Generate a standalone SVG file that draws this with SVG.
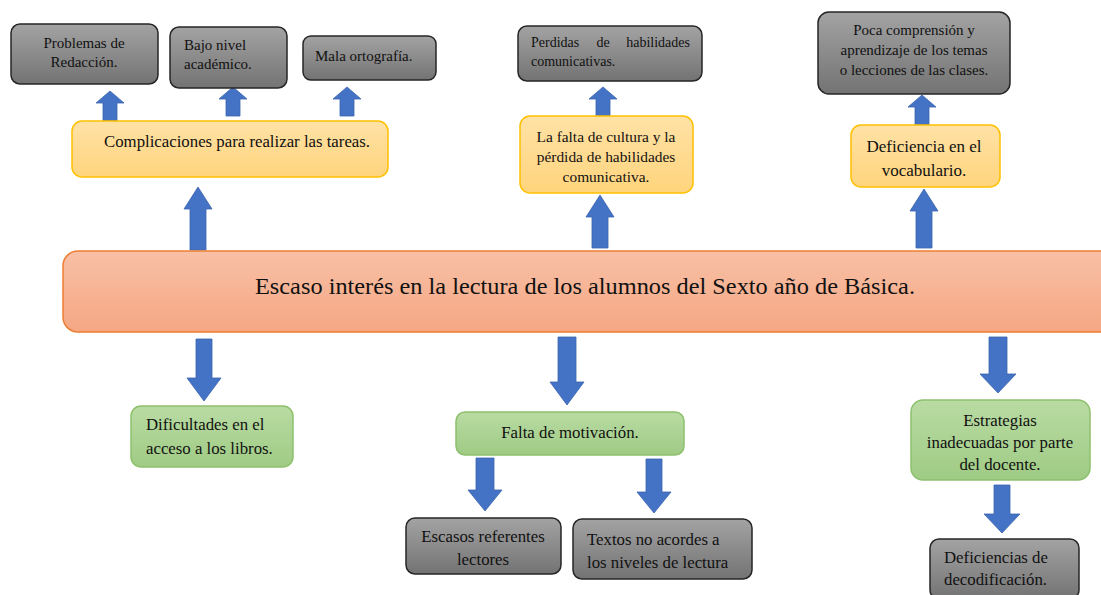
<svg xmlns="http://www.w3.org/2000/svg" width="1101" height="595" viewBox="0 0 1101 595">
<defs>
<linearGradient id="gGray" x1="0" y1="0" x2="0" y2="1"><stop offset="0" stop-color="#a3a3a3"/><stop offset="1" stop-color="#737373"/></linearGradient>
<linearGradient id="gYel" x1="0" y1="0" x2="0" y2="1"><stop offset="0" stop-color="#ffe2a6"/><stop offset="1" stop-color="#ffd47c"/></linearGradient>
<linearGradient id="gGrn" x1="0" y1="0" x2="0" y2="1"><stop offset="0" stop-color="#b9dba3"/><stop offset="1" stop-color="#9fcb84"/></linearGradient>
<linearGradient id="gOr" x1="0" y1="0" x2="0" y2="1"><stop offset="0" stop-color="#f8c0a6"/><stop offset="1" stop-color="#f5a783"/></linearGradient>
</defs>
<style>
.gray{fill:url(#gGray);stroke:#262626;stroke-width:1.5}
.yel{fill:url(#gYel);stroke:#ffc000;stroke-width:1.5}
.grn{fill:url(#gGrn);stroke:#8dc06d;stroke-width:1.5}
.main{fill:url(#gOr);stroke:#ed7d31;stroke-width:1.5}
text{font-family:"Liberation Serif","Times New Roman",serif;fill:#111}
.t{font-size:14px}
.s{font-size:15px}
.m{font-size:16.8px}
.c{text-anchor:middle}
.arr{fill:#4472c4;stroke:#3b65b0;stroke-width:0.8}
</style>
<rect width="1101" height="595" fill="#fff"/>

<g id="connectors">
<path class="arr" d="M110,91 L124,103 L117,103 L117,121 L103,121 L103,103 L96,103 Z"/>
<path class="arr" d="M233,87 L247,99 L240,99 L240,116 L226,116 L226,99 L219,99 Z"/>
<path class="arr" d="M347,87 L361,99 L354,99 L354,116 L340,116 L340,99 L333,99 Z"/>
<path class="arr" d="M603,87 L617,99 L610,99 L610,116 L596,116 L596,99 L589,99 Z"/>
<path class="arr" d="M922,95 L936,107 L929,107 L929,125 L915,125 L915,107 L908,107 Z"/>
<path class="arr" d="M198,187 L212,209 L206,209 L206,250 L190,250 L190,209 L184,209 Z"/>
<path class="arr" d="M600,195 L614,217 L608,217 L608,248 L592,248 L592,217 L586,217 Z"/>
<path class="arr" d="M924,189 L938,211 L932,211 L932,248 L916,248 L916,211 L910,211 Z"/>
<path class="arr" d="M204,401 L221,378 L212,378 L212,339 L196,339 L196,378 L187,378 Z"/>
<path class="arr" d="M567,405 L584,382 L576,382 L576,337 L558,337 L558,382 L550,382 Z"/>
<path class="arr" d="M998,393 L1016,374 L1007,374 L1007,337 L989,337 L989,374 L980,374 Z"/>
<path class="arr" d="M485,511 L502,490 L494,490 L494,458 L476,458 L476,490 L468,490 Z"/>
<path class="arr" d="M654,513 L671,492 L662,492 L662,459 L646,459 L646,492 L637,492 Z"/>
<path class="arr" d="M1002,533 L1020,514 L1010,514 L1010,485 L994,485 L994,514 L984,514 Z"/>
</g>

<g id="main">
<rect class="main" x="63" y="251" width="1060" height="81" rx="15"/>
<text x="255" y="294" style="font-size:23px" textLength="660" lengthAdjust="spacingAndGlyphs">Escaso interés en la lectura de los alumnos del Sexto año de Básica.</text>
</g>

<g id="problemas">
<rect class="gray" x="11" y="24" width="147" height="60" rx="9"/>
<text class="s c" x="84" y="48">Problemas de</text>
<text class="s c" x="84" y="67">Redacción.</text>
</g>
<g id="bajo">
<rect class="gray" x="170" y="27" width="117" height="61" rx="9"/>
<text class="s" x="184" y="50">Bajo nivel</text>
<text class="s" x="184" y="69">académico.</text>
</g>
<g id="mala">
<rect class="gray" x="303" y="36" width="133" height="44" rx="8"/>
<text class="s" x="315" y="61">Mala ortografía.</text>
</g>
<g id="complicaciones">
<rect class="yel" x="72" y="121" width="316" height="56" rx="10"/>
<text class="m" x="104" y="147">Complicaciones para realizar las tareas.</text>
</g>

<g id="perdidas">
<rect class="gray" x="518" y="26" width="184" height="55" rx="9"/>
<text class="t" x="531" y="47">Perdidas</text>
<text class="t c" x="603" y="47">de</text>
<text class="t" x="690" y="47" style="text-anchor:end">habilidades</text>
<text class="t" x="531" y="66">comunicativas.</text>
</g>
<g id="falta-cultura">
<rect class="yel" x="520" y="116" width="173" height="77" rx="10"/>
<text class="c" style="font-size:15.4px" x="606" y="142">La falta de cultura y la</text>
<text class="c" style="font-size:15.4px" x="606" y="162">pérdida de habilidades</text>
<text class="c" style="font-size:15.4px" x="606" y="182">comunicativa.</text>
</g>

<g id="poca">
<rect class="gray" x="818" y="12" width="192" height="82" rx="11"/>
<text class="s c" x="914" y="35">Poca comprensión y</text>
<text class="s c" x="914" y="55">aprendizaje de los temas</text>
<text class="s c" x="914" y="75">o lecciones de las clases.</text>
</g>
<g id="deficiencia-vocab">
<rect class="yel" x="851" y="125" width="149" height="62" rx="10"/>
<text class="c" style="font-size:17px" x="924" y="152">Deficiencia en el</text>
<text class="c" style="font-size:17px" x="924" y="176">vocabulario.</text>
</g>

<g id="dificultades">
<rect class="grn" x="131" y="406" width="162" height="61" rx="10"/>
<text class="m" x="146" y="430">Dificultades en el</text>
<text class="m" x="146" y="454">acceso a los libros.</text>
</g>
<g id="motivacion">
<rect class="grn" x="456" y="412" width="228" height="43" rx="9"/>
<text class="m c" x="570" y="438">Falta de motivación.</text>
</g>
<g id="escasos">
<rect class="gray" x="406" y="518" width="155" height="56" rx="9"/>
<text class="m c" x="483" y="542">Escasos referentes</text>
<text class="m c" x="483" y="565">lectores</text>
</g>
<g id="textos">
<rect class="gray" x="573" y="519" width="179" height="60" rx="9"/>
<text class="m" x="587" y="545">Textos no acordes a</text>
<text class="m" x="587" y="568">los niveles de lectura</text>
</g>

<g id="estrategias">
<rect class="grn" x="911" y="400" width="179" height="80" rx="12"/>
<text class="m c" x="1000" y="426">Estrategias</text>
<text class="m c" x="1000" y="448">inadecuadas por parte</text>
<text class="m c" x="1000" y="470">del docente.</text>
</g>
<g id="deficiencias-decod">
<rect class="gray" x="930" y="539" width="149" height="60" rx="9"/>
<text class="m" x="944" y="563">Deficiencias de</text>
<text class="m" x="944" y="585">decodificación.</text>
</g>
</svg>
